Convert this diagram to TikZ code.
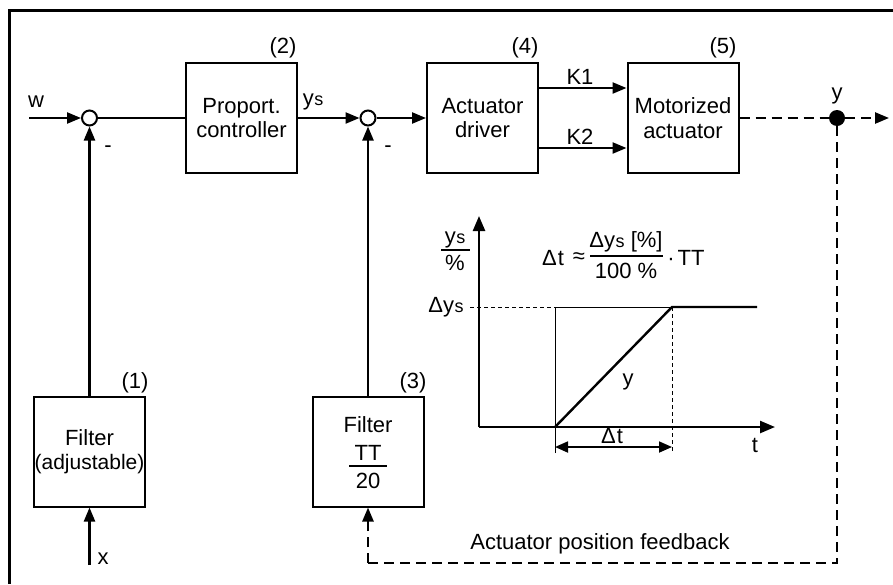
\documentclass[tikz,border=0pt]{standalone}
\usepackage{fontspec}
\setmainfont{Liberation Sans}
\usetikzlibrary{arrows.meta}
\begin{document}
\begin{tikzpicture}[x=1pt,y=-1pt,
  txt/.style={font=\fontsize{22}{24.5}\selectfont},
  blk/.style={draw, line width=2pt, minimum width=111pt, minimum height=110pt, inner sep=0pt, align=center, txt},
  sumc/.style={circle, draw, line width=2pt, minimum size=15pt, inner sep=0pt},
  dotc/.style={circle, fill, minimum size=16pt, inner sep=0pt},
  lbl/.style={txt, inner sep=0pt},
  tip/.style={-{Triangle[length=14pt,width=11pt]}},
  conn/.style={line width=2.3pt},
  arr/.style={conn, tip},
  dsh/.style={line width=2.5pt, dash pattern=on 10pt off 6pt},
  thinl/.style={line width=1pt},
  thindash/.style={line width=1pt, dash pattern=on 4pt off 3pt},
  axis/.style={line width=2.4pt, -{Triangle[length=15pt,width=12pt]}},
  dim/.style={line width=1.8pt, {Triangle[length=13pt,width=11pt]}-{Triangle[length=13pt,width=11pt]}},
  fracbar/.style={line width=1.5pt}
]
\useasboundingbox (0,0) rectangle (893,584);
% frame (left and top only)
\draw[line width=3.5pt] (9.5,584) -- (9.5,10.5) -- (893,10.5);

% main blocks
\node[blk] (ctrl) at (241.5,118) {Proport.\\controller};
\node[blk] (drv) at (482.5,118) {Actuator\\driver};
\node[blk] (mot) at (683,118) {Motorized\\actuator};
\node[blk] (f1) at (89.5,451.5) {Filter\\{\fontsize{21}{24}\selectfont(adjustable)}};
\node[blk] (f3) at (368,451.5) {};
\node[lbl] (f3a) at (368,425) {Filter};
\node[lbl] (f3b) at (368,453) {TT};
\draw[fracbar] (349,466) -- (387,466);
\node[lbl] (f3c) at (368,481) {20};

% summing points and branch dot
\node[sumc] (s1) at (89.5,118) {};
\node[sumc] (s2) at (368,118) {};
\node[dotc] (yd) at (837,118) {};

% free ends
\coordinate (win) at (29,118);
\coordinate (yout) at (889,118);
\coordinate (xin) at (89.5,565);
\coordinate (fbr) at (837,563);
\coordinate (fbl) at (368,563);

% block numbers
\node[lbl] (n2) at (283,48) {(2)};
\node[lbl] (n4) at (525,48) {(4)};
\node[lbl] (n5) at (723,48) {(5)};
\node[lbl] (n1) at (135,383) {(1)};
\node[lbl] (n3) at (413,383) {(3)};

% signal labels
\node[lbl] (lw) at (36,102) {w};
\node[lbl] (lys) at (313,102) {y\kern0.5pt{\fontsize{18}{18}\selectfont s}};
\node[lbl] (lm1) at (108,149) {-};
\node[lbl] (lm2) at (388,149) {-};
\node[lbl] (lk1) at (580,77) {K1};
\node[lbl] (lk2) at (580,137) {K2};
\node[lbl] (ly) at (837,96) {y};
\node[lbl] (lx) at (103,559) {x};
\node[lbl] (lfb) at (600,544) {Actuator position feedback};

% connectors
\draw[arr] (win) -- (s1);
\draw[conn] (s1) -- (ctrl);
\draw[arr] (ctrl) -- (s2);
\draw[arr] (s2) -- (drv);
\draw[arr] (drv.east |- 0,88) -- (mot.west |- 0,88);
\draw[arr] (drv.east |- 0,148) -- (mot.west |- 0,148);
\draw[arr] (f1) -- (s1);
\draw[arr] (f3) -- (s2);
\draw[arr] (xin) -- (f1);
\draw[dsh] (mot) -- (yd);
\draw[dsh, tip] (yd) -- (yout);
\draw[dsh] (yd) -- (fbr) -- (fbl);
\draw[dsh, tip] (fbl) -- (f3);

% ---- step response graph ----
\coordinate (o) at (479,427);
\coordinate (ytip) at (479,216);
\coordinate (ttip) at (775,427);
\coordinate (r0) at (555,427);
\coordinate (r1) at (672,307);
\coordinate (r2) at (757,307);
\draw[thindash] (470,307) -- (555,307);
\draw[thinl] (555,453) -- (555,307) -- (r1);
\draw[thindash] (672,307) -- (672,453);
\draw[axis] (o) -- (ytip);
\draw[axis] (o) -- (ttip);
\draw[line width=2.4pt] (r0) -- (r1) -- (r2);
\draw[dim] (555,447) -- (672,447);

\node[lbl] (gys) at (455,240) {y\kern0.5pt{\fontsize{18}{18}\selectfont s}};
\draw[fracbar] (441,250) -- (470,250);
\node[lbl] (gpc) at (455,263) {\%};
\node[lbl] (gdys) at (446,307) {Δy\kern0.5pt{\fontsize{18}{18}\selectfont s}};
\node[lbl] (gy) at (628,382) {y};
\node[lbl] (gt) at (755,445) {t};
\node[lbl] (gdt) at (612,436) {Δ\kern1pt t};
% formula
\node[lbl] (fdt) at (553,258) {Δ\kern1pt t};
\node[lbl] (fapx) at (579,258) {≈};
\node[lbl] (fnum) at (626,242) {Δy\kern0.5pt{\fontsize{18}{18}\selectfont s} [\%]};
\draw[fracbar] (590,256) -- (663,256);
\node[lbl] (fden) at (626,271) {100 \%};
\node[lbl] (fdot) at (686,258) {·\kern3pt TT};
\end{tikzpicture}
\end{document}
